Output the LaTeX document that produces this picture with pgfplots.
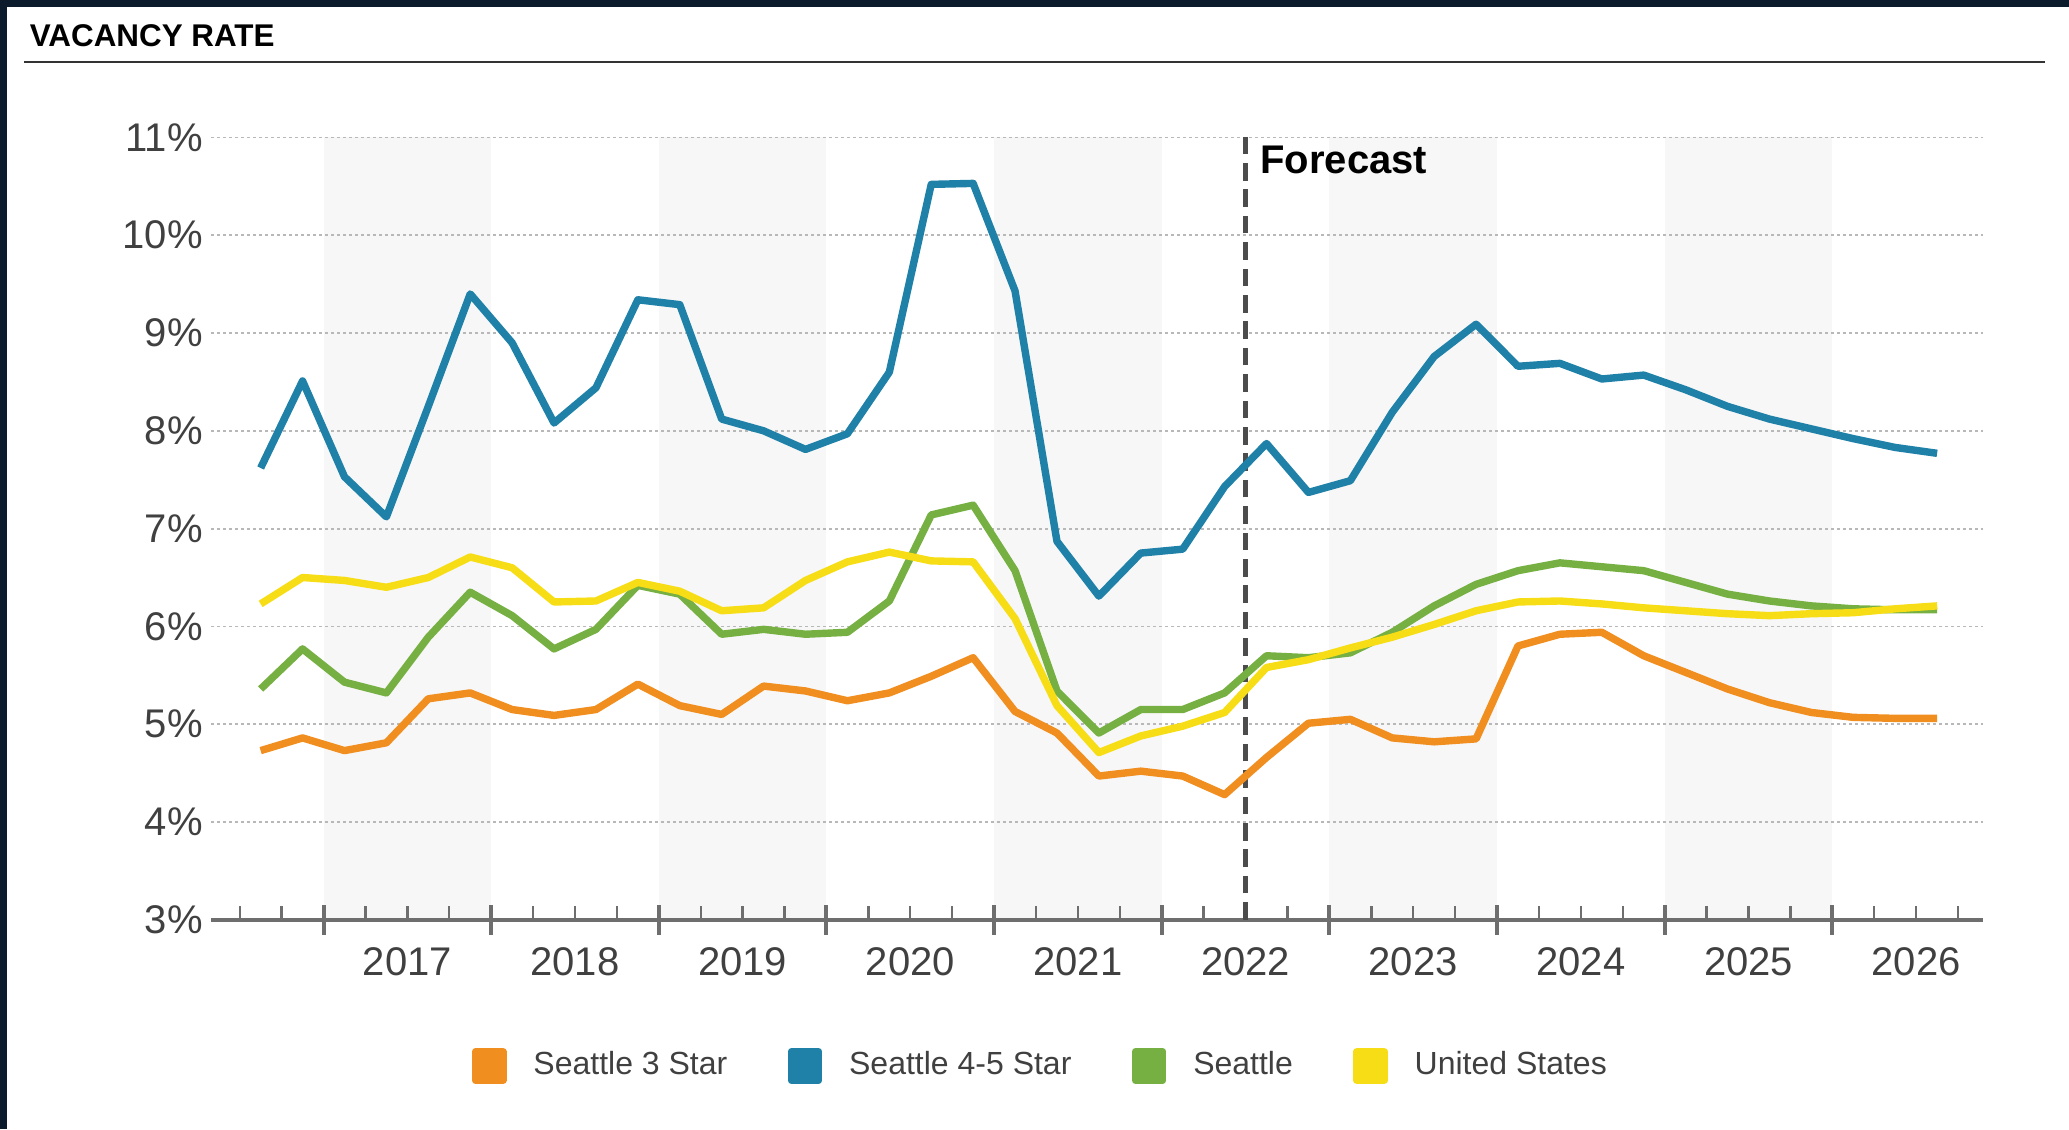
\documentclass[border=0pt]{standalone}
\usepackage{pgfplots}
\pgfplotsset{compat=1.18}
\usepackage{pgfplotstable}
\usepackage{fontspec}
\setmainfont{Liberation Sans}

\definecolor{c3star}{HTML}{F08E1F}
\definecolor{c45star}{HTML}{1F80A8}
\definecolor{cseattle}{HTML}{76B043}
\definecolor{cus}{HTML}{F6DD15}
\definecolor{bandgray}{HTML}{F7F7F7}
\definecolor{framecol}{HTML}{0C1B2C}
\definecolor{labelgray}{HTML}{404040}
\definecolor{axisgray}{HTML}{6E6E6E}
\definecolor{gridgray}{HTML}{B8B8B8}
\definecolor{rulegray}{HTML}{333333}

% quarterly vacancy rates (%), plotted at quarter midpoints
\pgfplotstableread{
x        s3   s45   sea  us
2016.625 4.73 7.62  5.36 6.23
2016.875 4.86 8.51  5.77 6.50
2017.125 4.73 7.53  5.43 6.47
2017.375 4.81 7.12  5.32 6.40
2017.625 5.26 8.25  5.89 6.50
2017.875 5.32 9.40  6.35 6.71
2018.125 5.15 8.90  6.11 6.60
2018.375 5.09 8.08  5.77 6.25
2018.625 5.15 8.44  5.97 6.26
2018.875 5.41 9.34  6.42 6.45
2019.125 5.19 9.29  6.33 6.36
2019.375 5.10 8.12  5.92 6.16
2019.625 5.39 8.00  5.97 6.19
2019.875 5.34 7.81  5.92 6.47
2020.125 5.24 7.97  5.94 6.66
2020.375 5.32 8.60  6.26 6.76
2020.625 5.49 10.52 7.14 6.67
2020.875 5.68 10.53 7.24 6.66
2021.125 5.13 9.43  6.57 6.08
2021.375 4.91 6.87  5.34 5.19
2021.625 4.47 6.31  4.91 4.71
2021.875 4.52 6.75  5.15 4.88
2022.125 4.47 6.79  5.15 4.98
2022.375 4.28 7.43  5.32 5.12
2022.625 4.66 7.87  5.70 5.58
2022.875 5.01 7.37  5.68 5.66
2023.125 5.05 7.49  5.73 5.78
2023.375 4.86 8.19  5.94 5.89
2023.625 4.82 8.76  6.21 6.02
2023.875 4.85 9.09  6.43 6.16
2024.125 5.80 8.66  6.57 6.25
2024.375 5.92 8.69  6.65 6.26
2024.625 5.94 8.53  6.61 6.23
2024.875 5.70 8.57  6.57 6.19
2025.125 5.53 8.42  6.45 6.16
2025.375 5.36 8.25  6.33 6.13
2025.625 5.22 8.12  6.26 6.11
2025.875 5.12 8.02  6.21 6.13
2026.125 5.07 7.92  6.18 6.14
2026.375 5.06 7.83  6.17 6.18
2026.625 5.06 7.77  6.17 6.21
}\vacancy

\begin{document}
\begin{tikzpicture}
% page extent and dark frame
\path (0,0) rectangle (517.25pt,282.25pt);
\fill[framecol] (0,280.4pt) rectangle (517.25pt,282.25pt);
\fill[framecol] (0,0) rectangle (1.7pt,282.25pt);

% heading and rule
\node[anchor=west, inner sep=0pt, font=\bfseries\fontsize{7.85}{9.5}\selectfont]
  at (7.25pt,273.3pt) {VACANCY RATE};
\draw[rulegray, line width=0.65pt] (6pt,266.75pt) -- (511.3pt,266.75pt);

\begin{axis}[
  set layers,
  at={(52.8pt,52.3pt)}, anchor=south west,
  width=443pt, height=195.6pt, scale only axis,
  xmin=2016.33, xmax=2026.9, ymin=3, ymax=11,
  axis x line=bottom, axis y line=left,
  x axis line style={-, line width=1.15pt, axisgray},
  y axis line style={draw=none},
  ytick={3,4,5,6,7,8,9,10,11},
  yticklabels={3\%,4\%,5\%,6\%,7\%,8\%,9\%,10\%,11\%},
  ytick style={draw=none},
  ymajorgrids,
  y grid style={gridgray, line width=0.45pt, dash pattern=on 0.6pt off 0.9pt},
  tick align=inside,
  xtick={2017.5,2018.5,2019.5,2020.5,2021.5,2022.5,2023.5,2024.5,2025.5,2026.5},
  xticklabels={2017,2018,2019,2020,2021,2022,2023,2024,2025,2026},
  minor xtick={2016.5,2016.75,2017.25,2017.75,2018.25,2018.75,2019.25,2019.75,
    2020.25,2020.75,2021.25,2021.75,2022.25,2022.75,2023.25,2023.75,
    2024.25,2024.75,2025.25,2025.75,2026.25,2026.75},
  major tick length=3.5pt, minor tick length=3.5pt,
  xtick style={axisgray, line width=0.6pt},
  minor x tick style={axisgray, line width=0.6pt},
  extra x ticks={2017,2018,2019,2020,2021,2022,2023,2024,2025,2026},
  extra x tick labels={,,,,,,,,,},
  extra x tick style={tick align=center, major tick length=7.5pt,
    xtick style={axisgray, line width=1pt}},
  tick label style={text=labelgray, font=\fontsize{10}{12}\selectfont},
  yticklabel style={anchor=east, inner xsep=0pt, xshift=-1.9pt},
  xticklabel style={anchor=base, yshift=-13.8pt},
  legend columns=4,
  legend style={at={(axis description cs:0.1472,-0.1869)}, anchor=west,
    draw=none, fill=none, inner sep=0pt, outer sep=0pt,
    font=\fontsize{8}{9.6}\selectfont, text=labelgray,
    /tikz/every odd column/.append style={column sep=4.7pt},
    /tikz/every even column/.append style={column sep=13.1pt}},
  legend image code/.code={\fill[#1] (0pt,-3.6pt) rectangle (6.8pt,3.6pt);},
  every axis plot/.append style={line width=1.85pt, line join=round},
]
% alternate year shading
\addplot[draw=none, fill=bandgray, forget plot, on layer=axis background] coordinates {(2017,11) (2018,11)} \closedcycle;
\addplot[draw=none, fill=bandgray, forget plot, on layer=axis background] coordinates {(2019,11) (2020,11)} \closedcycle;
\addplot[draw=none, fill=bandgray, forget plot, on layer=axis background] coordinates {(2021,11) (2022,11)} \closedcycle;
\addplot[draw=none, fill=bandgray, forget plot, on layer=axis background] coordinates {(2023,11) (2024,11)} \closedcycle;
\addplot[draw=none, fill=bandgray, forget plot, on layer=axis background] coordinates {(2025,11) (2026,11)} \closedcycle;

% forecast divider
\addplot[forget plot, color=black!70, line width=1.05pt, dash pattern=on 4.4pt off 2.2pt]
  coordinates {(2022.5,3) (2022.5,11)};
\node[anchor=west, inner sep=0pt, font=\bfseries\fontsize{10}{12}\selectfont]
  at (axis cs:2022.5,11) [xshift=3.5pt, yshift=-5.6pt] {Forecast};

\addplot[color=c3star]   table[x=x, y=s3]  {\vacancy};
\addlegendentry{Seattle 3 Star}
\addplot[color=c45star]  table[x=x, y=s45] {\vacancy};
\addlegendentry{Seattle 4-5 Star}
\addplot[color=cseattle] table[x=x, y=sea] {\vacancy};
\addlegendentry{Seattle}
\addplot[color=cus]      table[x=x, y=us]  {\vacancy};
\addlegendentry{United States}
\end{axis}
\end{tikzpicture}
\end{document}
